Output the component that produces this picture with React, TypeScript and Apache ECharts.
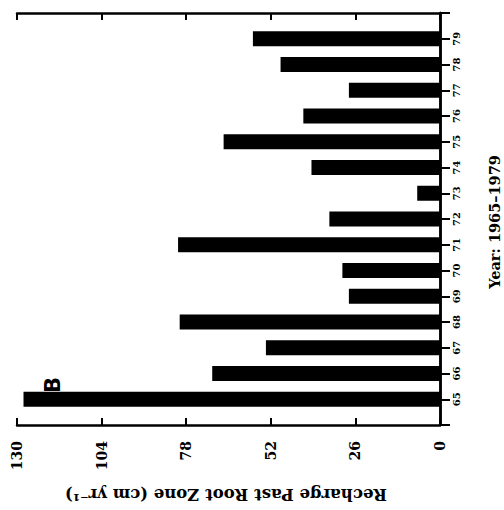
import React, { useEffect, useRef } from "react";
import * as echarts from "echarts";

// Years (two-digit) and annual recharge below the root zone, cm per year
const years = ["65", "66", "67", "68", "69", "70", "71", "72", "73", "74", "75", "76", "77", "78", "79"];
const recharge = [128, 70, 53.5, 80, 28, 30, 80.5, 34, 7, 39.5, 66.5, 42, 28, 49, 57.5];
const valueTicks = { min: 0, max: 130, step: 26 };

const FONT = "'DejaVu Serif', 'Liberation Serif', serif";

export default function App() {
  const ref = useRef<HTMLDivElement>(null);

  useEffect(() => {
    if (!ref.current) return;
    const chart = echarts.init(ref.current, null, { renderer: "svg" });

    // one empty slot at each end leaves a half-gap above 79 and below 65
    const cats = ["64", ...years, "80"];
    const values = [null, ...recharge, null];

    const line = { show: true, lineStyle: { color: "#000", width: 2.5 } };
    const tick = (length: number) => ({
      show: true,
      inside: true,
      length,
      interval: 0,
      lineStyle: { color: "#000", width: 2 },
    });

    chart.setOption({
      animation: false,
      backgroundColor: "#fff",
      grid: { left: 17, right: 64, top: 13, bottom: 85 },
      xAxis: [
        {
          type: "value",
          inverse: true,
          position: "bottom",
          min: valueTicks.min,
          max: valueTicks.max,
          interval: valueTicks.step,
          axisLine: line,
          axisTick: tick(7),
          axisLabel: {
            rotate: 90,
            margin: 16,
            color: "#000",
            fontFamily: FONT,
            fontWeight: "bold",
            fontSize: 14,
          },
          splitLine: { show: false },
        },
        {
          type: "value",
          inverse: true,
          position: "top",
          min: valueTicks.min,
          max: valueTicks.max,
          interval: valueTicks.step,
          axisLine: line,
          axisTick: tick(7),
          axisLabel: { show: false },
          splitLine: { show: false },
        },
      ],
      yAxis: [
        {
          type: "category",
          data: cats,
          position: "right",
          boundaryGap: false,
          axisLine: line,
          axisTick: { show: false },
          axisLabel: {
            rotate: 90,
            margin: 11,
            color: "#000",
            fontFamily: FONT,
            fontWeight: "bold",
            fontSize: 10,
            interval: 0,
            formatter: (v: string) => (years.includes(v) ? v : ""),
          },
          splitLine: { show: false },
        },
        {
          type: "category",
          data: cats,
          position: "left",
          boundaryGap: false,
          axisLine: line,
          axisTick: tick(10),
          axisLabel: { show: false },
          splitLine: { show: false },
        },
      ],
      series: [
        {
          type: "bar",
          xAxisIndex: 0,
          yAxisIndex: 0,
          data: values,
          barWidth: 15,
          itemStyle: { color: "#000" },
        },
      ],
      graphic: [
        {
          type: "text",
          x: 226,
          y: 494,
          rotation: Math.PI,
          style: {
            text: "Recharge Past Root Zone (cm yr\u207B\u00B9)",
            fontFamily: FONT,
            fontWeight: "bold",
            fontSize: 16.5,
            fill: "#000",
            textAlign: "center",
            textVerticalAlign: "middle",
          },
        },
        {
          type: "text",
          x: 494,
          y: 222,
          rotation: Math.PI / 2,
          style: {
            text: "Year: 1965\u20131979",
            fontFamily: FONT,
            fontWeight: "bold",
            fontSize: 14.5,
            fill: "#000",
            textAlign: "center",
            textVerticalAlign: "middle",
          },
        },
        {
          type: "text",
          x: 53,
          y: 385,
          rotation: Math.PI / 2,
          style: {
            text: "B",
            fontFamily: "'DejaVu Sans', sans-serif",
            fontWeight: "bold",
            fontSize: 21,
            fill: "#000",
            textAlign: "center",
            textVerticalAlign: "middle",
          },
        },
      ],
    });

    return () => chart.dispose();
  }, []);

  return <div ref={ref} style={{ width: 504, height: 510, position: "absolute", left: 0, top: 0 }} />;
}
